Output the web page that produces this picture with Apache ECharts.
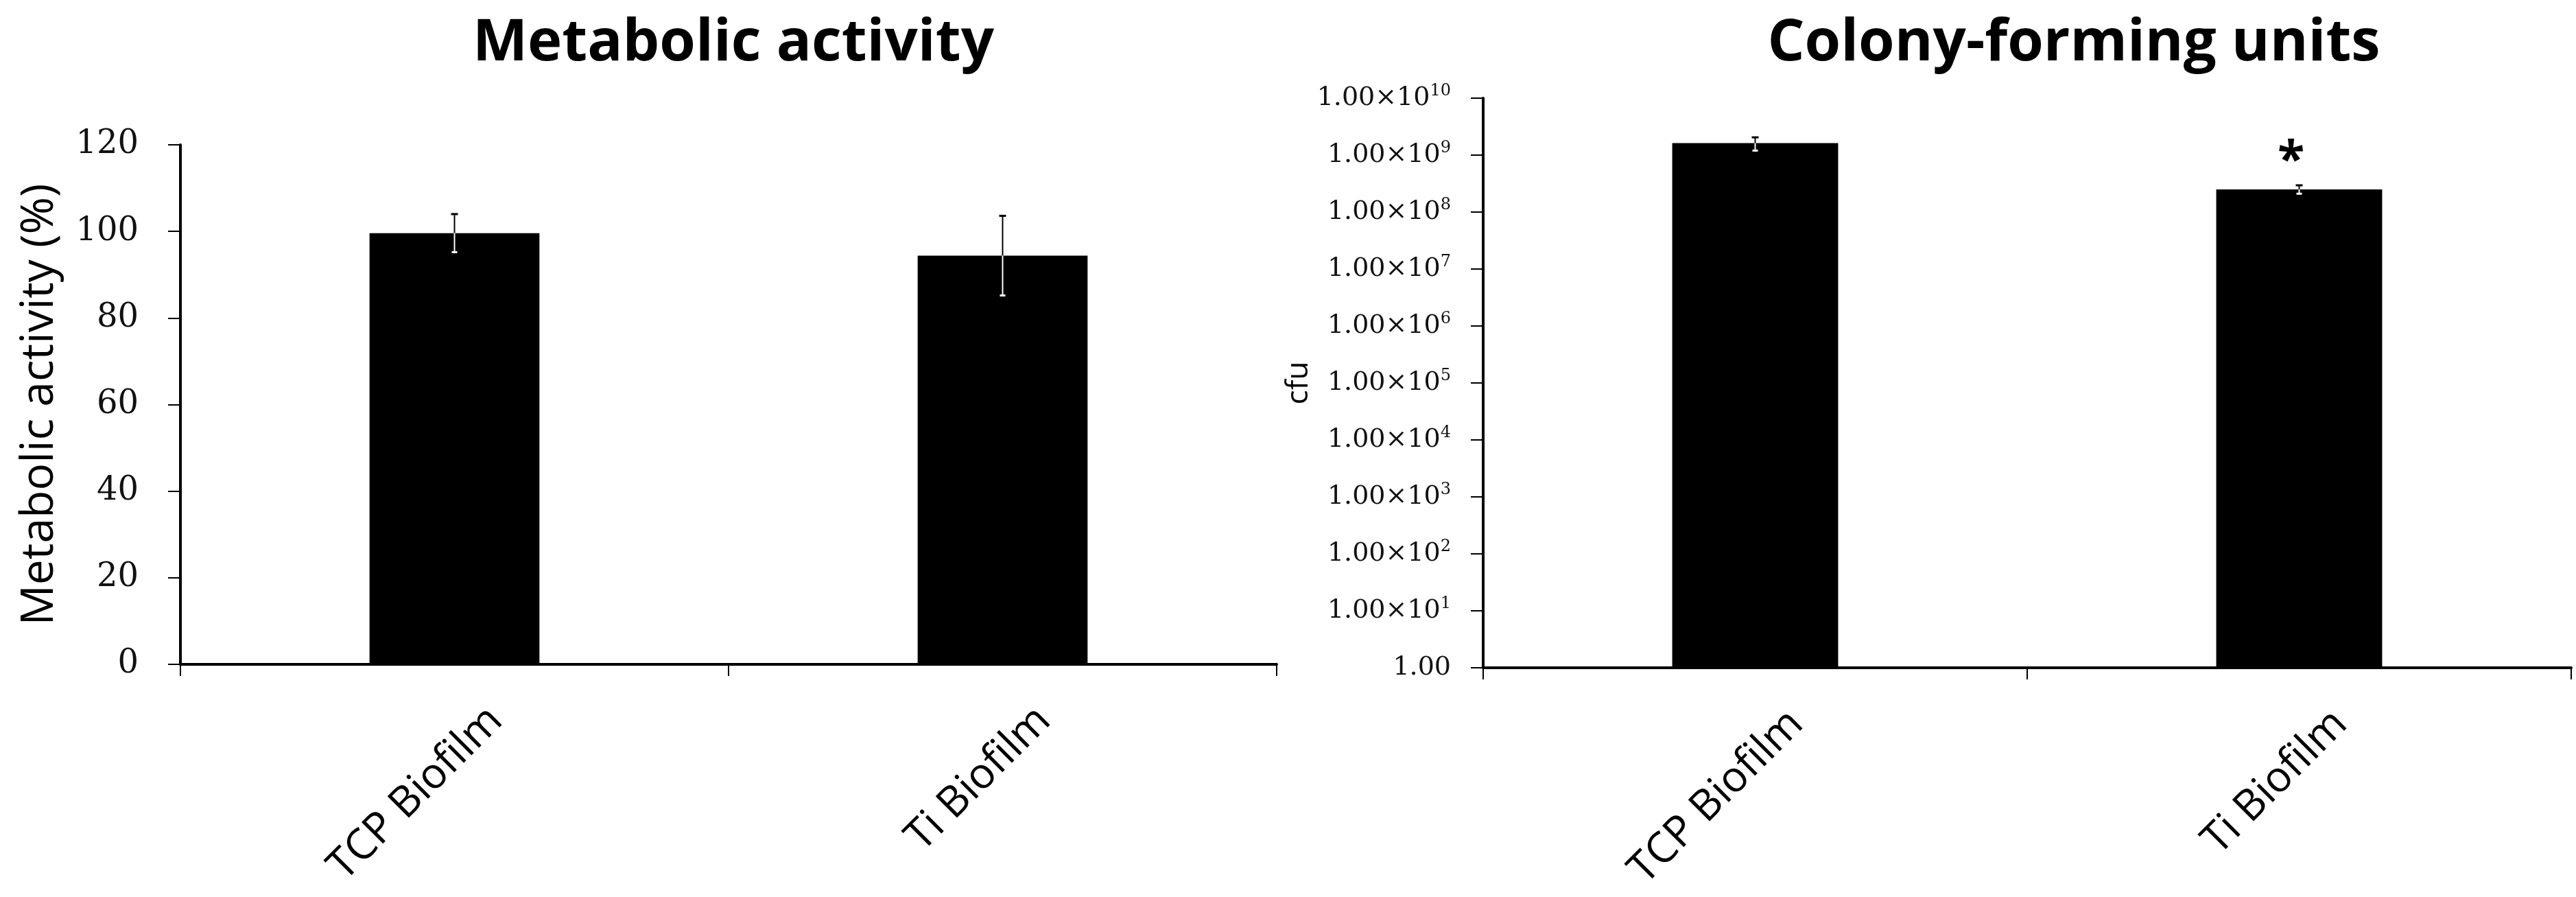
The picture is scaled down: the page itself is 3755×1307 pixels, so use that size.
<!DOCTYPE html>
<html><head><meta charset="utf-8">
<script src="https://cdn.jsdelivr.net/npm/echarts@6/dist/echarts.min.js"></script>
<style>html,body{margin:0;padding:0;background:#fff}#c{width:3755px;height:1307px}</style>
</head><body><div id="c"></div>
<script>
// ---- data ----
const categories = ['TCP Biofilm', 'Ti Biofilm'];
const metabolicMean = [99.6, 94.4];
const metabolicErr = [4.4, 9.2];
const metabolicTicks = [0, 20, 40, 60, 80, 100, 120];
const cfuMean = [1.62e9, 2.5e8];
const cfuLow = [1.2e9, 2.1e8];
const cfuHigh = [2.05e9, 2.95e8];
const cfuSignif = ['', '*'];
const cfuTicks = [1, 1e1, 1e2, 1e3, 1e4, 1e5, 1e6, 1e7, 1e8, 1e9, 1e10];

const chart = echarts.init(document.getElementById('c'), null, {renderer: 'canvas'});

function errRender(marks) {
  return function (params, api) {
    const i = api.value(0);
    const top = api.coord([i, api.value(1)]);
    const lo = api.coord([i, api.value(2)]);
    const hi = api.coord([i, api.value(3)]);
    const x = top[0];
    const ch = [
      {type: 'line', shape: {x1: x, y1: hi[1], x2: x, y2: top[1]}, style: {stroke: '#000', lineWidth: 2}},
      {type: 'line', shape: {x1: x, y1: top[1], x2: x, y2: lo[1]}, style: {stroke: '#fff', lineWidth: 2}},
      {type: 'line', shape: {x1: x - 5, y1: hi[1], x2: x + 5, y2: hi[1]}, style: {stroke: '#000', lineWidth: 3}},
      {type: 'line', shape: {x1: x - 4, y1: lo[1], x2: x + 4, y2: lo[1]}, style: {stroke: '#fff', lineWidth: 3}}
    ];
    const m = marks ? marks[params.dataIndex] : '';
    if (m) {
      ch.push({type: 'text', style: {text: m, x: x - 12, y: hi[1] - 34, align: 'center', verticalAlign: 'middle',
        font: 'bold 72px "Open Sans"', fill: '#000'}});
    }
    return {type: 'group', children: ch};
  };
}

const axisLineStyle = {show: true, lineStyle: {color: '#000', width: 4}};
const catLabel = {
  rotate: 45, interval: 0, margin: 12, fontFamily: 'Open Sans', fontSize: 62, color: '#000',
  verticalAlign: 'top', lineHeight: 62, padding: [54, 0, 0, 0]
};

const option = {
  backgroundColor: '#fff',
  animation: false,
  title: [
    {text: 'Metabolic activity', left: 1064, top: 16, textAlign: 'center',
      textStyle: {fontFamily: 'Open Sans', fontWeight: 'bold', fontSize: 85, color: '#000'}},
    {text: 'Colony-forming units', left: 3018, top: 16, textAlign: 'center',
      textStyle: {fontFamily: 'Open Sans', fontWeight: 'bold', fontSize: 85, color: '#000'}}
  ],
  grid: [
    {left: 263, right: 3755 - 1861, top: 211, bottom: 1307 - 968, containLabel: false},
    {left: 2162, right: 3755 - 3748, top: 143, bottom: 1307 - 973, containLabel: false}
  ],
  xAxis: [
    {type: 'category', gridIndex: 0, data: categories, boundaryGap: true,
      axisLine: axisLineStyle, axisTick: {show: true, length: 17, lineStyle: {color: '#000', width: 2}},
      axisLabel: catLabel, splitLine: {show: false}},
    {type: 'category', gridIndex: 1, data: categories, boundaryGap: true,
      axisLine: axisLineStyle, axisTick: {show: true, length: 17, lineStyle: {color: '#000', width: 2}},
      axisLabel: catLabel, splitLine: {show: false}}
  ],
  yAxis: [
    {type: 'value', gridIndex: 0, min: 0, max: 120, interval: 20,
      name: 'Metabolic activity (%)', nameLocation: 'middle', nameRotate: 90, nameGap: 172,
      nameTextStyle: {fontFamily: 'Open Sans', fontSize: 66, color: '#000'},
      axisLine: axisLineStyle, axisTick: {show: true, length: 18, lineStyle: {color: '#000', width: 2}},
      axisLabel: {customValues: metabolicTicks, margin: 61, fontFamily: 'DejaVu Serif', fontSize: 48, color: '#111'},
      splitLine: {show: false}},
    {type: 'log', logBase: 10, gridIndex: 1, min: 1, max: 1e10,
      name: 'cfu', nameLocation: 'middle', nameRotate: 90, nameGap: 200,
      nameTextStyle: {fontFamily: 'Open Sans', fontSize: 44, color: '#000'},
      axisLine: axisLineStyle,
      axisTick: {show: true, length: 18, customValues: cfuTicks, lineStyle: {color: '#000', width: 2}},
      axisLabel: {customValues: cfuTicks, margin: 47, align: 'right',
        formatter: function (v) {
          const e = Math.round(Math.log10(v));
          if (e === 0) return '{m|1.00}';
          return '{m|1.00×10}{s|' + e + '}';
        },
        rich: {
          m: {fontFamily: 'DejaVu Serif', fontSize: 38, color: '#111', lineHeight: 44},
          s: {fontFamily: 'DejaVu Serif', fontSize: 24, color: '#111', lineHeight: 24, verticalAlign: 'top'}
        }},
      splitLine: {show: false}}
  ],
  series: [
    {type: 'bar', xAxisIndex: 0, yAxisIndex: 0, data: metabolicMean, barWidth: '31%',
      itemStyle: {color: '#000'}},
    {type: 'custom', xAxisIndex: 0, yAxisIndex: 0, renderItem: errRender(null), z: 10,
      data: metabolicMean.map((v, i) => [i, v, v - metabolicErr[i], v + metabolicErr[i]])},
    {type: 'bar', xAxisIndex: 1, yAxisIndex: 1, data: cfuMean, barWidth: '30.5%',
      itemStyle: {color: '#000'}},
    {type: 'custom', xAxisIndex: 1, yAxisIndex: 1, renderItem: errRender(cfuSignif), z: 10,
      data: cfuMean.map((v, i) => [i, v, cfuLow[i], cfuHigh[i]])}
  ]
};
chart.setOption(option);
</script>
</body></html>
